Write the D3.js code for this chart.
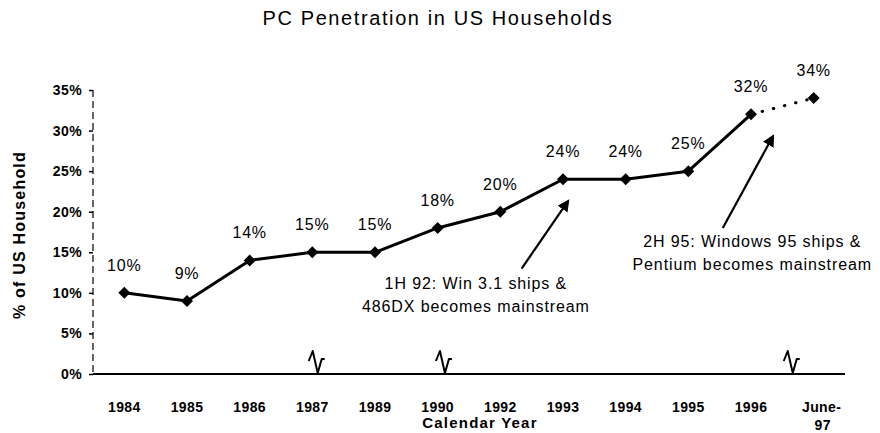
<!DOCTYPE html>
<html>
<head>
<meta charset="utf-8">
<script src="https://cdn.jsdelivr.net/npm/d3@7"></script>
<style>
  body { margin: 0; background: #fff; }
  text { font-family: "Liberation Sans", Arial, sans-serif; fill: #000; }
  .tick-label { font-size: 14px; font-weight: bold; letter-spacing: 0.4px; }
  .axis-title { font-size: 15px; font-weight: bold; letter-spacing: 1.2px; }
  .point-label { font-size: 16px; letter-spacing: 0.8px; }
  .note { font-size: 16px; letter-spacing: 0.9px; }
</style>
</head>
<body>
<svg id="chart" width="880" height="433"></svg>
<script>
// data
const years = ['1984', '1985', '1986', '1987', '1989', '1990', '1992', '1993', '1994', '1995', '1996', 'June-97'];
const penetration = [10, 9, 14, 15, 15, 18, 20, 24, 24, 25, 32, 34];
const yTicks = [0, 5, 10, 15, 20, 25, 30, 35];
// axis break marks: category + offset in steps
const breaks = [['1987', 0.07], ['1990', 0.1], ['1996', 0.65]];
const notes = [
    { lines: ['1H 92:  Win 3.1 ships &', '486DX becomes mainstream'], at: '1993', tail: [-0.66, 13.0], head: [0.08, 21.3], text: [-1.39, 10.5] },
    { lines: ['2H 95:   Windows 95 ships &', 'Pentium becomes mainstream'], at: '1996', tail: [-0.45, 18.0], head: [0.35, 29.3], text: [0.02, 15.6] }
];

const margin = { top: 90, right: 35, bottom: 59, left: 93 };
const width = 880 - margin.left - margin.right;
const height = 433 - margin.top - margin.bottom;

const svg = d3.select('#chart');
const chart = svg.append('g').attr('transform', `translate(${margin.left},${margin.top})`);

const xScale = d3.scalePoint().domain(years).range([0, width]).padding(0.5);
const yScale = d3.scaleLinear().domain([0, 35]).range([height, 0]);
const step = xScale.step();

// title
svg.append('text')
    .attr('x', 438).attr('y', 25)
    .attr('text-anchor', 'middle')
    .style('font-size', '20px')
    .style('letter-spacing', '1.6px')
    .text('PC Penetration in US Households');

// y axis (scanned look: broken line)
chart.append('line')
    .attr('x1', 0).attr('x2', 0).attr('y1', 0).attr('y2', height)
    .attr('stroke', '#000').attr('stroke-width', 1.2)
    .attr('stroke-dasharray', '7,4');
const yAxis = d3.axisLeft(yScale).tickValues(yTicks).tickSize(4).tickPadding(7).tickFormat(d => d + '%');
const yAxisG = chart.append('g').call(yAxis);
yAxisG.select('.domain').remove();
yAxisG.selectAll('text').attr('class', 'tick-label').style('font-family', null).style('font-size', null);
yAxisG.selectAll('line').attr('stroke', '#000').attr('stroke-width', 1.5);

// x axis
chart.append('line')
    .attr('x1', 0).attr('x2', width).attr('y1', height).attr('y2', height)
    .attr('stroke', '#000').attr('stroke-width', 2);
const xLabels = chart.append('g');
years.forEach(y => {
    const parts = y.split('-');
    xLabels.append('text')
        .attr('class', 'tick-label')
        .attr('text-anchor', 'middle')
        .attr('x', xScale(y) + (parts.length > 1 ? 8 : 0)).attr('y', height + 38)
        .text(parts.length > 1 ? parts[0] + '-' : y);
    if (parts.length > 1) {
        xLabels.append('text').attr('class', 'tick-label').attr('text-anchor', 'middle')
            .attr('x', xScale(y) + 9).attr('y', height + 56).text(parts[1]);
    }
});

// axis break marks
breaks.forEach(([y, off]) => {
    const cx = xScale(y) + off * step;
    const h = height;
    chart.append('path')
        .attr('d', `M${cx - 8},${h - 13} L${cx - 4},${h - 23} L${cx + 1},${h - 1} L${cx + 5},${h - 15} L${cx + 8},${h - 15}`)
        .attr('fill', 'none').attr('stroke', '#000').attr('stroke-width', 2)
        .attr('stroke-linejoin', 'round');
});

// y axis title
svg.append('text')
    .attr('class', 'axis-title')
    .attr('transform', `translate(25,235) rotate(-90)`)
    .attr('text-anchor', 'middle')
    .style('font-size', '16px')
    .text('% of US Household');

// x axis title
svg.append('text')
    .attr('class', 'axis-title')
    .attr('x', 480).attr('y', margin.top + height + 54)
    .attr('text-anchor', 'middle')
    .text('Calendar Year');

// line: solid part and dotted projection
const pts = years.map((y, i) => ({ year: y, value: penetration[i] }));
const line = d3.line().x(d => xScale(d.year)).y(d => yScale(d.value));
chart.append('path')
    .datum(pts.slice(0, pts.length - 1))
    .attr('d', line)
    .attr('fill', 'none').attr('stroke', '#000').attr('stroke-width', 3)
    .attr('stroke-linejoin', 'round');
chart.append('path')
    .datum(pts.slice(pts.length - 2))
    .attr('d', line)
    .attr('fill', 'none').attr('stroke', '#000').attr('stroke-width', 3)
    .attr('stroke-linecap', 'round')
    .attr('stroke-dasharray', '0.5,11');

// markers (rotated squares)
chart.selectAll('.symbol')
    .data(pts)
    .join('path')
    .attr('class', 'symbol')
    .attr('d', d3.symbol(d3.symbolSquare, 72))
    .attr('transform', d => `translate(${xScale(d.year)},${yScale(d.value)}) rotate(45)`)
    .attr('fill', '#000');

// value labels
chart.selectAll('.point-label')
    .data(pts)
    .join('text')
    .attr('class', 'point-label')
    .attr('text-anchor', 'middle')
    .attr('x', d => xScale(d.year))
    .attr('y', d => yScale(d.value) - 22)
    .text(d => d.value + '%');

// annotations
svg.append('defs').append('marker')
    .attr('id', 'arrow').attr('viewBox', '0 0 10 10')
    .attr('refX', 8).attr('refY', 5)
    .attr('markerWidth', 5.5).attr('markerHeight', 5.5)
    .attr('orient', 'auto')
    .append('path').attr('d', 'M0,0 L10,5 L0,10 Z').attr('fill', '#000');

notes.forEach(n => {
    const bx = xScale(n.at);
    chart.append('line')
        .attr('x1', bx + n.tail[0] * step).attr('y1', yScale(n.tail[1]))
        .attr('x2', bx + n.head[0] * step).attr('y2', yScale(n.head[1]))
        .attr('stroke', '#000').attr('stroke-width', 2.2)
        .attr('marker-end', 'url(#arrow)');
    n.lines.forEach((l, i) => {
        chart.append('text')
            .attr('class', 'note')
            .attr('text-anchor', 'middle')
            .attr('x', bx + n.text[0] * step)
            .attr('y', yScale(n.text[1]) + i * 23)
            .text(l);
    });
});
</script>
</body>
</html>
